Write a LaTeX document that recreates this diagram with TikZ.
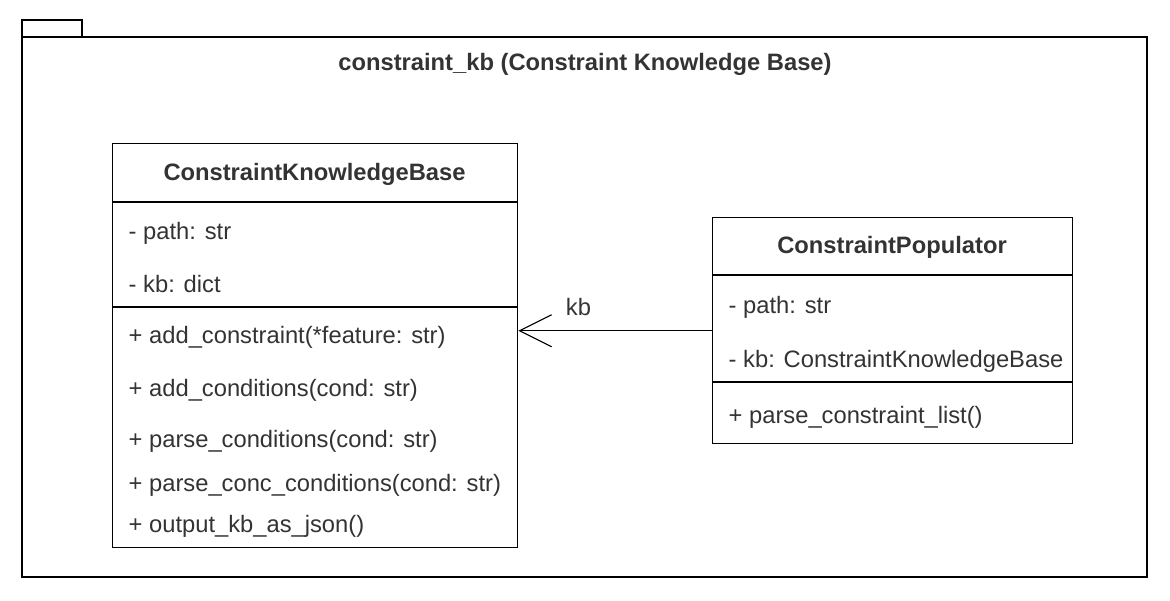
\documentclass[tikz,border=0pt]{standalone}
\usepackage{fontspec}
\setmainfont{Liberation Sans}
\usetikzlibrary{arrows.meta, positioning}
\definecolor{umlgray}{HTML}{333333}

\begin{document}
\begin{tikzpicture}[x=0.75pt,y=-0.75pt,line width=1.1pt,
                    font=\fontsize{17.8}{21}\selectfont]
        \tikzstyle{classbox}=[draw,rectangle,inner sep=0pt,anchor=north west]
        \tikzstyle{member}=[anchor=base west,inner sep=0pt,text=umlgray]
        \tikzstyle{classname}=[anchor=base,inner sep=0pt,text=umlgray,font=\fontsize{17.8}{21}\selectfont\bfseries]
        \tikzstyle{assoc}=[-{Straight Barb[length=24pt,width=24pt,line width=0.8pt]}]
        \useasboundingbox (0,0) rectangle (1170,600);

        % package frame
        \draw (22,20) rectangle (82,37);
        \draw (22,37) rectangle (1147,577);
        \node[classname] (pkgtitle) at (585,70) {constraint\_kb (Constraint Knowledge Base)};

        % ConstraintKnowledgeBase
        \node[classbox,minimum width=303.75pt,minimum height=303pt] (ckb) at (112,143) {};
        \node[classname] (ckbname) at (314.5,180) {ConstraintKnowledgeBase};
        \draw (ckb.west |- 0,202) -- (ckb.east |- 0,202);
        \draw (ckb.west |- 0,307) -- (ckb.east |- 0,307);
        \node[member] (ckbpath) at (128,239) {- path: str};
        \node[member] (ckbkb)   at (128,292) {- kb: dict};
        \node[member] (ckbadd)  at (128,343) {+ add\_constraint(*feature: str)};
        \node[member] (ckbcond) at (128,396) {+ add\_conditions(cond: str)};
        \node[member] (ckbparse) at (128,447) {+ parse\_conditions(cond: str)};
        \node[member] (ckbconc) at (128,491) {+ parse\_conc\_conditions(cond: str)};
        \node[member] (ckbout)  at (128,532) {+ output\_kb\_as\_json()};

        % ConstraintPopulator
        \node[classbox,minimum width=270pt,minimum height=169.5pt] (pop) at (712,217) {};
        \node[classname] (popname) at (892,253) {ConstraintPopulator};
        \draw (pop.west |- 0,275) -- (pop.east |- 0,275);
        \draw (pop.west |- 0,382) -- (pop.east |- 0,382);
        \node[member] (poppath) at (728,313) {- path: str};
        \node[member] (popkb)   at (728,367) {- kb: ConstraintKnowledgeBase};
        \node[member] (popparse) at (728,423) {+ parse\_constraint\_list()};

        % association
        \draw[assoc] (pop.west) -- node[pos=0.69,above=11pt,inner sep=0pt,text=umlgray] {kb} (pop.west -| ckb.east);
    \end{tikzpicture}
\end{document}
